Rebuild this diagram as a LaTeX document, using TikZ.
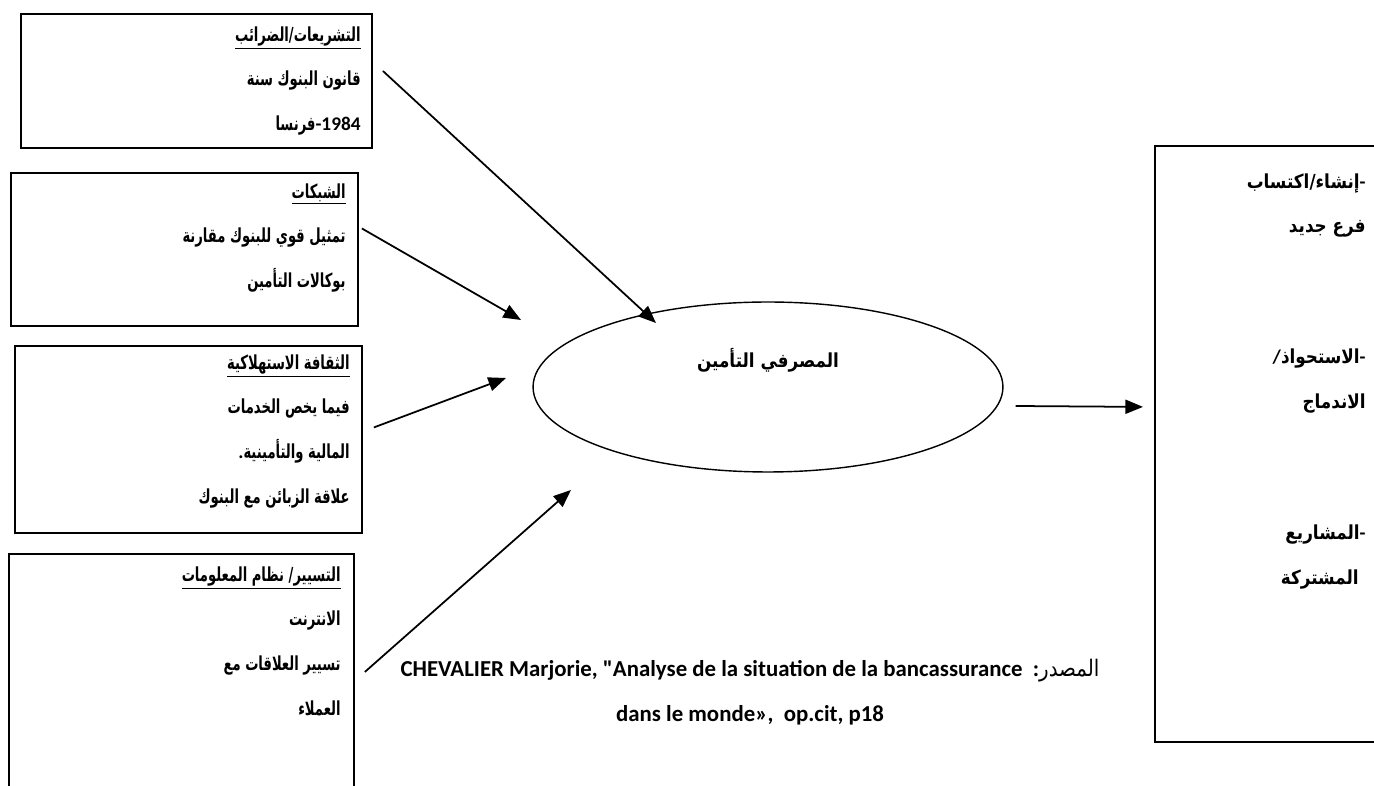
\documentclass[tikz,border=0pt]{standalone}
\usepackage{fontspec}
\setmainfont{Carlito}[Ligatures=TeXOff]
\newfontfamily\arabicfont[Script=Arabic,FakeStretch=0.87]{DejaVu Sans}
\newfontfamily\arabicnarrow[Script=Arabic,FakeStretch=0.68]{DejaVu Sans}
\TeXXeTstate=1
\usetikzlibrary{arrows.meta,shapes.geometric}
\newcommand{\rl}[1]{\mbox{\beginR #1\endR}}
\newcommand{\lt}[1]{\mbox{\rmfamily #1}}
\begin{document}
\begin{tikzpicture}[x=0.02cm,y=-0.02cm,
  box/.style={draw,line width=1.1pt,anchor=north west,inner sep=0pt},
  txt/.style={anchor=north east,align=right,inner sep=0pt,font=\arabicnarrow\bfseries\fontsize{11}{25.5}\selectfont},
  arr/.style={line width=1pt,-{Triangle[length=10pt,width=8pt]}}]
\useasboundingbox (0,0) rectangle (1374,786);
% left boxes
\node[box,minimum width=7.02cm,minimum height=2.68cm] (leg) at (20,13) {};
\node[box,minimum width=6.94cm,minimum height=3.06cm] (net) at (10,172) {};
\node[box,minimum width=6.94cm,minimum height=3.74cm] (cult) at (14,345) {};
\node[box,minimum width=6.9cm,minimum height=5.2cm] (mgmt) at (8,553) {};
\node[txt] (legt) at (361,26) {\underline{\rl{التشريعات/الضرائب}}\\ \rl{قانون البنوك سنة}\\ \rl{فرنسا}\lt{-1984}};
\node[txt] (nett) at (346,183) {\underline{\rl{الشبكات}}\\ \rl{تمثيل قوي للبنوك مقارنة}\\ \rl{بوكالات التأمين}};
\node[txt] (cultt) at (350,354) {\underline{\rl{الثقافة الاستهلاكية}}\\ \rl{فيما يخص الخدمات}\\ \lt{.}\rl{المالية والتأمينية}\\ \rl{علاقة الزبائن مع البنوك}};
\node[txt] (mgmtt) at (341,566) {\underline{\rl{التسيير/ نظام المعلومات}}\\ \rl{الانترنت}\\ \rl{تسيير العلاقات مع}\\ \rl{العملاء}};
% centre and right
\node[draw,ellipse,line width=0.8pt,inner sep=0pt,minimum width=9.4cm,minimum height=3.4cm] (bank) at (768,387) {};
\node[txt,anchor=center,font=\arabicfont\bfseries\fontsize{11}{25.5}\selectfont] (bankt) at (768,360) {\rl{المصرفي التأمين}};
\node[box,minimum width=4.6cm,minimum height=11.92cm] (ops) at (1154,145) {};
\node[txt,font=\arabicfont\bfseries\fontsize{11}{25.5}\selectfont] (opst) at (1366,173)
  {\rl{إنشاء/اكتساب}\lt{-}\\ \rl{فرع جديد}\hspace*{4pt}\\[49pt]
   \lt{/}\rl{الاستحواذ}\lt{-}\\ \rl{الاندماج}\hspace*{4pt}\\[49pt]
   \rl{المشاريع}\lt{-}\\ \rl{المشتركة}\hspace*{4pt}};
% source
\node[align=center,font=\bfseries\fontsize{13}{25.5}\selectfont] (src) at (750,692)
  {CHEVALIER Marjorie, "Analyse de la situation de la bancassurance\ \ :{\arabicfont\mdseries\rl{المصدر}}\\ dans le monde»,\ \ op.cit, p18};
% arrows
\coordinate (p1) at (656,323);
\coordinate (p2) at (521,320);
\coordinate (p3) at (506,378);
\coordinate (p4) at (571,490);
\draw[arr] ([shift={(10,-10)}]leg.east) -- (p1);
\draw[arr] ([shift={(3,-21)}]net.east) -- (p2);
\draw[arr] ([shift={(11,-12)}]cult.east) -- (p3);
\draw[arr] ([shift={(10,-12)}]mgmt.east) -- (p4);
\draw[arr] ([shift={(12,19)}]bank.east) -- ([shift={(-11,-37)}]ops.west);
\end{tikzpicture}
\end{document}
